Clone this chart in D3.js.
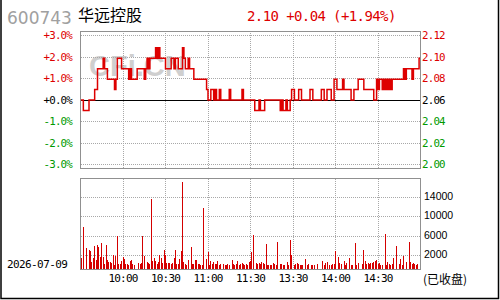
<!DOCTYPE html>
<html>
<head>
<meta charset="utf-8">
<script src="https://cdn.jsdelivr.net/npm/d3@7"></script>
<style>
body { margin: 0; background: #fff; }
svg { display: block; }
</style>
</head>
<body>
<div id="chart"></div>
<script>
var stockCode = "600743";
var stockName = "华远控股";
var quoteText = "2.10 +0.04 (+1.94%)";
var tradeDate = "2026-07-09";
var prevClose = 2.06;

var timeLabels = ["10:00", "10:30", "11:00", "11:30", "13:30", "14:00", "14:30"];
var timeMinutes = [30, 60, 90, 120, 150, 180, 210];
var pctTicks = [3, 2, 1, 0, -1, -2, -3];
var pctLabels = ["+3.0%", "+2.0%", "+1.0%", "+0.0%", "-1.0%", "-2.0%", "-3.0%"];
var priceLabels = ["2.12", "2.10", "2.08", "2.06", "2.04", "2.02", "2.00"];
var volTicks = [2000, 6000, 10000, 14000];

// price per minute, 09:30 .. 15:00 (241 points)
var prices = [
    2.06, 2.06, 2.05, 2.05, 2.05, 2.05, 2.06, 2.06, 2.06, 2.06,
    2.07, 2.07, 2.09, 2.09, 2.09, 2.09, 2.10, 2.09, 2.09, 2.08,
    2.08, 2.08, 2.08, 2.08, 2.07, 2.08, 2.10, 2.10, 2.10, 2.09,
    2.09, 2.09, 2.09, 2.09, 2.08, 2.09, 2.08, 2.08, 2.08, 2.08,
    2.09, 2.09, 2.09, 2.09, 2.09, 2.08, 2.09, 2.10, 2.09, 2.10,
    2.10, 2.10, 2.10, 2.11, 2.10, 2.11, 2.10, 2.10, 2.10, 2.10,
    2.09, 2.09, 2.09, 2.09, 2.10, 2.10, 2.09, 2.10, 2.10, 2.09,
    2.09, 2.09, 2.11, 2.10, 2.09, 2.09, 2.10, 2.09, 2.09, 2.09,
    2.08, 2.08, 2.08, 2.08, 2.08, 2.08, 2.08, 2.08, 2.08, 2.07,
    2.06, 2.06, 2.07, 2.07, 2.06, 2.07, 2.06, 2.06, 2.07, 2.06,
    2.06, 2.06, 2.06, 2.06, 2.06, 2.07, 2.06, 2.06, 2.06, 2.06,
    2.06, 2.06, 2.06, 2.06, 2.07, 2.06, 2.06, 2.06, 2.06, 2.06,
    2.06, 2.06, 2.06, 2.05, 2.05, 2.05, 2.06, 2.05, 2.05, 2.05,
    2.06, 2.06, 2.06, 2.06, 2.06, 2.06, 2.06, 2.06, 2.06, 2.06,
    2.06, 2.05, 2.06, 2.05, 2.05, 2.06, 2.05, 2.05, 2.06, 2.07,
    2.07, 2.06, 2.06, 2.06, 2.07, 2.07, 2.06, 2.06, 2.06, 2.06,
    2.06, 2.06, 2.07, 2.07, 2.06, 2.06, 2.06, 2.06, 2.06, 2.06,
    2.07, 2.07, 2.06, 2.06, 2.07, 2.07, 2.07, 2.06, 2.06, 2.08,
    2.08, 2.07, 2.07, 2.07, 2.07, 2.08, 2.07, 2.07, 2.07, 2.07,
    2.07, 2.06, 2.06, 2.07, 2.07, 2.07, 2.08, 2.08, 2.08, 2.08,
    2.07, 2.07, 2.07, 2.07, 2.07, 2.07, 2.07, 2.06, 2.06, 2.08,
    2.07, 2.08, 2.08, 2.07, 2.08, 2.07, 2.08, 2.07, 2.08, 2.07,
    2.08, 2.08, 2.08, 2.08, 2.08, 2.08, 2.08, 2.08, 2.09, 2.08,
    2.09, 2.09, 2.09, 2.09, 2.08, 2.09, 2.09, 2.09, 2.09, 2.10,
    2.10
];

// volume per minute, minute 1 .. 240
var volumes = [
    1500, 7900, 0, 3550, 0, 3150, 2950, 700, 1500, 4000,
    1100, 4200, 3800, 1700, 4600, 1700, 300, 4200, 1100, 700,
    700, 500, 2100, 100, 1900, 6000, 300, 300, 900, 1700,
    1300, 300, 300, 100, 900, 1100, 300, 100, 0, 0,
    500, 300, 500, 6000, 1900, 0, 700, 500, 300, 13650,
    900, 1500, 900, 300, 700, 2100, 1500, 500, 3150, 2100,
    500, 500, 500, 300, 500, 1500, 3150, 300, 300, 1300,
    2950, 17100, 700, 300, 100, 1100, 0, 3800, 300, 300,
    1100, 1100, 300, 300, 100, 100, 11800, 0, 1300, 2750,
    100, 900, 300, 700, 300, 300, 900, 100, 300, 0,
    300, 100, 100, 300, 100, 0, 1100, 300, 100, 300,
    900, 100, 300, 500, 300, 100, 300, 100, 700, 900,
    2750, 6150, 0, 500, 300, 500, 300, 700, 500, 300,
    4400, 100, 100, 100, 100, 500, 300, 100, 4800, 0,
    300, 300, 100, 100, 0, 700, 100, 5200, 2100, 0,
    100, 300, 500, 300, 100, 100, 100, 0, 1300, 100,
    300, 0, 100, 100, 100, 0, 300, 0, 0, 0,
    900, 100, 500, 700, 0, 100, 100, 300, 300, 2950,
    0, 1700, 500, 300, 0, 900, 100, 500, 0, 1500,
    100, 100, 0, 4600, 100, 500, 0, 0, 300, 3150,
    900, 300, 500, 300, 500, 500, 700, 900, 1100, 300,
    500, 100, 100, 0, 6400, 100, 700, 300, 100, 300,
    1500, 0, 4000, 0, 300, 1300, 100, 1900, 0, 700,
    0, 4800, 700, 300, 500, 300, 100, 300, 0, 1500
];

function init() {
    drawChart();
}

function drawChart() {

    var w = 500;
    var h = 300;
    var left = 80.5, right = 420.5;
    var red = "#dd0000";
    var green = "#009900";
    var gridColor = "#a8a8a8";
    var frameColor = "#909090";
    var mono = "'DejaVu Sans Mono', monospace";

    var x = d3.scaleLinear().domain([0, 240]).range([left, right]);
    var yPct = d3.scaleLinear().domain([-3, 3]).range([164.5, 35.5]);
    var yVol = d3.scaleLinear().domain([-850, 17900]).range([269.5, 178.3]);

    var svg = d3.select("#chart")
        .append("svg")
        .attr("width", w)
        .attr("height", h);

    svg.append("rect").attr("width", w).attr("height", h).attr("fill", "#fff");

    // outer frame
    svg.append("path")
        .attr("d", "M1,0V298.5H498.5V0")
        .attr("fill", "none")
        .attr("stroke", "#000")
        .attr("stroke-width", 1.5);

    // header
    svg.append("text")
        .attr("x", 7).attr("y", 24)
        .attr("font-family", "'DejaVu Sans', sans-serif")
        .attr("font-size", 17)
        .attr("fill", "#a0a0a0")
        .text(stockCode);

    svg.append("text")
        .attr("x", 78).attr("y", 21)
        .attr("font-family", "'Noto Sans CJK SC', sans-serif")
        .attr("font-size", 16)
        .attr("fill", "#000")
        .text(stockName);

    svg.append("text")
        .attr("x", 247).attr("y", 20.5)
        .attr("font-family", mono)
        .attr("font-size", 14)
        .attr("letter-spacing", -0.6)
        .attr("fill", red)
        .text(quoteText);

    // watermark
    svg.append("text")
        .attr("x", 89).attr("y", 75.5)
        .attr("font-family", "'Liberation Sans', Arial, sans-serif")
        .attr("font-weight", "bold")
        .attr("font-size", 29)
        .attr("fill", "#cfcfcf")
        .text("CFi.CN");

    var snap = function (v) { return Math.round(v - 0.5) + 0.5; };

    // price panel grid
    var pg = svg.append("g").attr("shape-rendering", "crispEdges");
    pg.selectAll("line.h")
        .data(pctTicks.filter(function (d) { return d !== 0; }))
        .enter().append("line")
        .attr("x1", left).attr("x2", right)
        .attr("y1", function (d) { return snap(yPct(d)); })
        .attr("y2", function (d) { return snap(yPct(d)); })
        .attr("stroke", gridColor)
        .attr("stroke-dasharray", "1,1");

    pg.selectAll("line.v")
        .data(timeMinutes)
        .enter().append("line")
        .attr("x1", function (d) { return snap(x(d)); })
        .attr("x2", function (d) { return snap(x(d)); })
        .attr("y1", 31).attr("y2", 168)
        .attr("stroke", gridColor)
        .attr("stroke-dasharray", "1,1");

    // volume panel grid
    pg.selectAll("line.vh")
        .data(volTicks)
        .enter().append("line")
        .attr("x1", left).attr("x2", right)
        .attr("y1", function (d) { return snap(yVol(d)); })
        .attr("y2", function (d) { return snap(yVol(d)); })
        .attr("stroke", gridColor)
        .attr("stroke-dasharray", "1,1");

    pg.selectAll("line.vv")
        .data(timeMinutes)
        .enter().append("line")
        .attr("x1", function (d) { return snap(x(d)); })
        .attr("x2", function (d) { return snap(x(d)); })
        .attr("y1", 178.5).attr("y2", 269.5)
        .attr("stroke", gridColor)
        .attr("stroke-dasharray", "1,1");

    // zero line
    pg.append("line")
        .attr("x1", left).attr("x2", right)
        .attr("y1", snap(yPct(0))).attr("y2", snap(yPct(0)))
        .attr("stroke", "#000");

    // volume bars
    svg.append("g")
        .attr("shape-rendering", "crispEdges")
        .selectAll("rect")
        .data(volumes)
        .enter().append("rect")
        .attr("x", function (d, i) { return Math.floor(x(i + 1)); })
        .attr("width", 1)
        .attr("y", function (d) { return yVol(d); })
        .attr("height", function (d) { return d > 0 ? yVol.range()[0] - yVol(d) : 0; })
        .attr("fill", "#d40000");

    // price line
    var line = d3.line()
        .x(function (d, i) { return x(i); })
        .y(function (d) { return yPct((d - prevClose) / prevClose * 100); })
        .curve(d3.curveStepAfter);

    svg.append("path")
        .datum(prices)
        .attr("d", line)
        .attr("fill", "none")
        .attr("stroke", red)
        .attr("stroke-width", 1.5);

    // panel frames
    svg.append("rect")
        .attr("x", left).attr("y", 31.5)
        .attr("width", right - left).attr("height", 136.5)
        .attr("fill", "none").attr("stroke", frameColor)
        .attr("shape-rendering", "crispEdges");
    svg.append("rect")
        .attr("x", left).attr("y", 178.5)
        .attr("width", right - left).attr("height", 91)
        .attr("fill", "none").attr("stroke", frameColor)
        .attr("shape-rendering", "crispEdges");

    var tickColor = function (d) { return d > 0 ? red : (d < 0 ? green : "#000"); };

    // left percent labels
    svg.selectAll("text.pct")
        .data(pctTicks)
        .enter().append("text")
        .attr("x", 72)
        .attr("y", function (d) { return yPct(d); })
        .attr("dy", "0.36em")
        .attr("text-anchor", "end")
        .attr("font-family", mono)
        .attr("font-size", 10.8)
        .attr("letter-spacing", -0.8)
        .attr("fill", tickColor)
        .text(function (d, i) { return pctLabels[i]; });

    // right price labels
    svg.selectAll("text.prc")
        .data(pctTicks)
        .enter().append("text")
        .attr("x", 422)
        .attr("y", function (d) { return yPct(d); })
        .attr("dy", "0.36em")
        .attr("font-family", mono)
        .attr("font-size", 10.8)
        .attr("letter-spacing", -0.8)
        .attr("fill", tickColor)
        .text(function (d, i) { return priceLabels[i]; });

    // volume labels
    svg.selectAll("text.vol")
        .data(volTicks)
        .enter().append("text")
        .attr("x", 424)
        .attr("y", function (d) { return yVol(d) - 1; })
        .attr("dy", "0.35em")
        .attr("font-family", "'Liberation Sans', Arial, sans-serif")
        .attr("font-size", 10.5)
        .attr("fill", "#000")
        .text(function (d) { return d; });

    // time labels
    svg.selectAll("text.time")
        .data(timeMinutes)
        .enter().append("text")
        .attr("x", function (d) { return x(d); })
        .attr("y", 281.5)
        .attr("text-anchor", "middle")
        .attr("font-family", mono)
        .attr("font-size", 11)
        .attr("letter-spacing", -0.8)
        .attr("fill", "#000")
        .text(function (d, i) { return timeLabels[i]; });

    svg.append("text")
        .attr("x", 7).attr("y", 267.5)
        .attr("font-family", mono)
        .attr("font-size", 11)
        .attr("letter-spacing", -0.6)
        .attr("fill", "#000")
        .text(tradeDate);

    svg.append("text")
        .attr("x", 423).attr("y", 284)
        .attr("font-family", "'Noto Sans CJK SC', sans-serif")
        .attr("font-size", 12)
        .attr("fill", "#000")
        .text("(已收盘)");
}

window.onload = init;
</script>
</body>
</html>
